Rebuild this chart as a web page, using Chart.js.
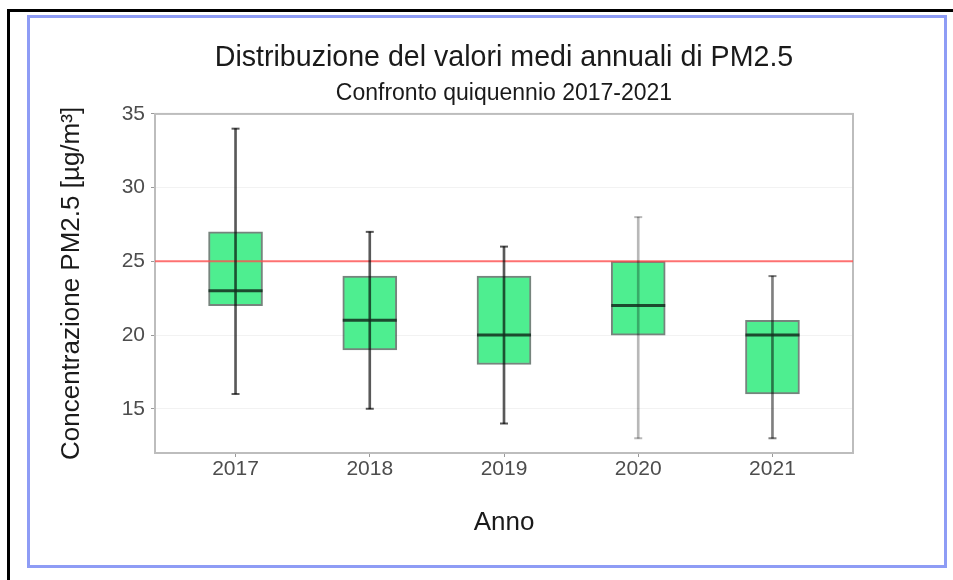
<!DOCTYPE html>
<html>
<head>
<meta charset="utf-8">
<title>PM2.5 2017-2021</title>
<script src="https://cdn.jsdelivr.net/npm/chart.js@4.4.1/dist/chart.umd.min.js"></script>
<style>
  html, body { margin: 0; background: #fff; overflow: hidden; }
  #frame { position: absolute; left: 7px; top: 9px; width: 946px; height: 580px; border-top: 3px solid #000; border-left: 3px solid #000; }
  #box { position: absolute; left: 27px; top: 15px; width: 914px; height: 547px; border: 3px solid #8e9cf5; }
  #wrap { position: absolute; left: 56px; top: 18px; width: 896px; height: 545px; }
</style>
</head>
<body>
<div id="frame"></div>
<div id="box"></div>
<div id="wrap"><canvas id="chart"></canvas></div>
<script>
const anni = ['2017', '2018', '2019', '2020', '2021'];
const minimi = [16, 15, 14, 13, 13];
const q1 = [22, 19, 18, 20, 16];
const mediane = [23, 21, 20, 22, 20];
const q3 = [27, 24, 24, 25, 21];
const massimi = [34, 27, 26, 28, 24];
const yTicks = [15, 20, 25, 30, 35];
const limite = 25;

const xMin = 0.4, xMax = 5.6;
const whiskerColors = ['rgba(0,0,0,0.65)', 'rgba(0,0,0,0.65)', 'rgba(0,0,0,0.65)', 'rgba(0,0,0,0.28)', 'rgba(0,0,0,0.5)'];

Chart.defaults.font.family = '"Liberation Sans", Arial, sans-serif';

// bordo grigio attorno all'area del grafico
const plotBorder = {
  id: 'plotBorder',
  beforeDatasetsDraw(chart) {
    const { ctx, chartArea: a } = chart;
    ctx.save();
    ctx.strokeStyle = '#bdbdbd';
    ctx.lineWidth = 2;
    ctx.strokeRect(a.left, a.top, a.right - a.left, a.bottom - a.top);
    ctx.restore();
  }
};

const pos = anni.map((a, i) => i + 1);

new Chart(document.getElementById('chart'), {
  type: 'bar',
  data: {
    datasets: [
      {
        type: 'line',
        data: [{ x: xMin, y: limite }, { x: xMax, y: limite }],
        borderColor: 'rgba(255,80,80,0.8)',
        borderWidth: 2,
        pointRadius: 0,
        order: 4
      },
      {
        data: pos.map((x, i) => ({ x, y: [q1[i], q3[i]] })),
        backgroundColor: 'rgb(78,238,144)',
        borderColor: 'rgba(60,80,70,0.7)',
        borderWidth: 2,
        borderSkipped: false,
        barThickness: 54,
        grouped: false,
        order: 5
      },
      {
        data: pos.map((x, i) => ({ x, y: [minimi[i], massimi[i]] })),
        backgroundColor: whiskerColors,
        borderWidth: 0,
        barThickness: 2,
        grouped: false,
        order: 3
      },
      {
        type: 'line',
        showLine: false,
        data: pos.map((x, i) => ({ x, y: minimi[i] })),
        pointStyle: 'line',
        pointRadius: 4,
        pointBorderWidth: 2,
        pointBorderColor: whiskerColors,
        order: 2
      },
      {
        type: 'line',
        showLine: false,
        data: pos.map((x, i) => ({ x, y: massimi[i] })),
        pointStyle: 'line',
        pointRadius: 4,
        pointBorderWidth: 2,
        pointBorderColor: whiskerColors,
        order: 2
      },
      {
        type: 'line',
        showLine: false,
        data: pos.map((x, i) => ({ x, y: mediane[i] })),
        pointStyle: 'line',
        pointRadius: 27,
        pointBorderWidth: 3,
        pointBorderColor: 'rgba(20,45,30,0.85)',
        order: 1
      }
    ]
  },
  options: {
    responsive: true,
    maintainAspectRatio: false,
    animation: false,
    layout: { padding: 0 },
    plugins: {
      legend: { display: false },
      tooltip: { enabled: false },
      title: {
        display: true,
        text: 'Distribuzione del valori medi annuali di PM2.5',
        color: '#1a1a1a',
        font: { size: 28.6, weight: 'normal' },
        padding: { top: 23, bottom: 0 }
      },
      subtitle: {
        display: true,
        text: 'Confronto quiquennio 2017-2021',
        color: '#1a1a1a',
        font: { size: 23 },
        padding: { top: 5, bottom: 6 }
      }
    },
    scales: {
      x: {
        type: 'linear',
        offset: false,
        min: xMin,
        max: xMax,
        afterBuildTicks: s => { s.ticks = pos.map(v => ({ value: v })); },
        afterFit: s => { s.height = 110; },
        ticks: {
          callback: v => anni[v - 1],
          color: '#4d4d4d',
          font: { size: 21 },
          padding: 0,
          maxRotation: 0
        },
        grid: { offset: false, drawOnChartArea: false, tickColor: '#999', tickLength: 4 },
        border: { display: false },
        title: {
          display: true,
          text: 'Anno',
          color: '#1a1a1a',
          font: { size: 26 },
          padding: { top: 0, bottom: 25 }
        }
      },
      y: {
        min: 12,
        max: 35,
        afterBuildTicks: s => { s.ticks = yTicks.map(v => ({ value: v })); },
        afterFit: s => { s.width = 99; },
        ticks: { color: '#4d4d4d', font: { size: 21 }, padding: 6 },
        grid: { color: '#f2f2f2', tickColor: '#999', tickLength: 4 },
        border: { display: false },
        title: {
          display: true,
          text: 'Concentrazione PM2.5 [µg/m³]',
          color: '#1a1a1a',
          font: { size: 26 },
          padding: { top: 0, bottom: 0 }
        }
      },
      // spazio vuoto a destra, così il titolo resta centrato sull'area del grafico
      yRight: {
        position: 'right',
        afterFit: s => { s.width = 99; },
        ticks: { display: false },
        grid: { display: false },
        border: { display: false }
      }
    }
  },
  plugins: [plotBorder]
});
</script>
</body>
</html>
